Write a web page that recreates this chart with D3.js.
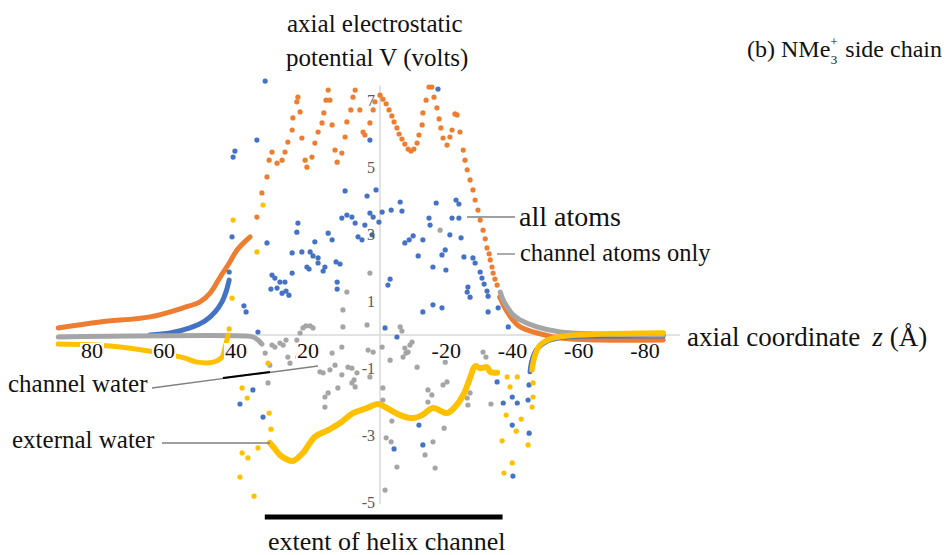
<!DOCTYPE html>
<html>
<head>
<meta charset="utf-8">
<script src="https://cdn.jsdelivr.net/npm/d3@7"></script>
<style>
  html, body { margin: 0; padding: 0; background: #fff; }
</style>
</head>
<body>
<svg id="chart" width="951" height="555"></svg>
<script>
// --- Data: [z (Å), V (volts)] ---
const xTicks = [80, 60, 40, 20, -20, -40, -60, -80];
const yTicks = [7, 5, 3, 1, -1, -3, -5];
const helixExtent = [32, -37];

// all atoms (orange)
const allAtomsLeft = [[89.4, 0.21], [77.8, 0.39], [63.9, 0.54], [54.7, 0.81], [50.0, 0.99], [47.2, 1.25],
  [44.4, 1.73], [41.7, 2.18], [39.7, 2.54], [36.1, 2.93]];
const allAtomsRight = [[-36.2, 1.13], [-37.2, 0.90], [-38.4, 0.69], [-40.1, 0.45], [-42.3, 0.24],
  [-47.4, 0.06], [-54.4, -0.09], [-66.5, -0.15], [-85.5, -0.15]];
const allAtomsDots = [[34.2, 3.52], [32.8, 4.24], [31.4, 4.72], [30.8, 5.22], [30.0, 5.46], [28.6, 5.13],
  [27.2, 5.22], [26.4, 5.46], [25.6, 5.76], [24.4, 6.12], [24.2, 6.48], [23.1, 6.96], [22.8, 7.10],
  [22.2, 6.66], [21.7, 5.88], [20.8, 5.22], [20.3, 5.01], [18.9, 5.31], [18.1, 5.73], [17.2, 6.06],
  [16.1, 6.33], [15.6, 6.63], [15.0, 7.01], [14.4, 7.31], [13.9, 7.01], [13.3, 6.27], [12.5, 5.52],
  [11.9, 5.16], [10.6, 5.43], [9.7, 5.91], [9.2, 6.36], [8.1, 6.72], [7.5, 7.10], [6.9, 7.31],
  [5.6, 6.72], [4.7, 6.06], [4.2, 5.97], [2.8, 6.33], [1.9, 6.72], [1.4, 6.96], [0, 7.16],
  [-0.87, 7.04], [-1.85, 6.90], [-2.72, 6.72], [-3.59, 6.54], [-4.24, 6.36], [-5.11, 6.18], [-5.76, 6.00],
  [-6.63, 5.85], [-7.50, 5.70], [-8.48, 5.55], [-9.35, 5.49], [-10.22, 5.55], [-11.20, 5.73],
  [-11.75, 5.97], [-12.72, 6.27], [-12.94, 6.63], [-13.92, 7.01], [-14.79, 7.40], [-15.66, 7.40],
  [-16.31, 7.10], [-17.18, 6.78], [-17.84, 6.45], [-18.38, 6.18], [-19.03, 5.88], [-20.23, 5.67],
  [-21.10, 5.91], [-21.75, 6.12], [-22.62, 6.60], [-23.27, 6.57], [-24.14, 6.06], [-25.12, 5.52],
  [-25.67, 5.22], [-26.32, 4.93], [-27.19, 4.63], [-28.06, 4.33], [-28.71, 4.03], [-29.58, 3.73],
  [-30.24, 3.43], [-31.11, 3.13], [-31.76, 2.87], [-32.30, 2.60], [-32.95, 2.42], [-33.28, 2.24],
  [-33.82, 2.03], [-34.15, 1.85], [-34.69, 1.67], [-35.35, 1.49], [-36.22, 1.13]];

// channel atoms only (blue)
const channelAtomsLeft = [[63.9, 0], [58.3, 0.06], [52.8, 0.21], [48.6, 0.42], [45.8, 0.69], [43.9, 0.99],
  [42.8, 1.28], [41.9, 1.64]];
const channelAtomsRight = [[-45.3, -1.10], [-45.9, -0.75], [-47.4, -0.42],
  [-50.5, -0.18], [-55.9, -0.06], [-69.5, -0.03], [-85.5, -0.03]];
const channelAtomsDots = [[31.9, 7.58], [34.2, 5.82], [40.3, 5.49], [40.8, 5.31], [2.8, 5.82], [9.7, 4.30],
  [3.6, 4.15], [1.1, 4.33], [10.6, 3.49], [9.2, 3.58], [7.8, 3.52], [6.9, 3.34], [4.2, 3.28], [2.8, 3.64],
  [1.9, 3.52], [0.3, 3.37], [22.8, 3.34], [23.1, 3.07], [14.4, 3.04], [13.3, 2.84], [18.1, 2.78],
  [6.1, 2.93], [5.0, 2.84], [2.2, 2.99], [41.1, 2.93], [31.4, 2.75], [24.4, 2.45], [21.7, 2.48],
  [19.4, 2.48], [18.6, 2.36], [17.2, 2.30], [17.2, 2.15], [15.3, 2.03], [15.8, 1.91], [20.3, 2.03],
  [19.7, 1.97], [12.2, 2.18], [11.1, 2.12], [24.4, 1.85], [30.0, 1.79], [29.2, 1.70], [27.8, 1.58],
  [26.4, 1.58], [30.3, 1.37], [28.6, 1.40], [27.2, 1.25], [26.1, 1.31], [25.3, 1.19], [11.9, 1.58],
  [11.9, 1.37], [37.8, 0.87], [37.2, 0.69], [33.9, 0.09], [41.9, 1.88], [-3.05, 1.67], [-2.39, 1.49],
  [-1.52, 0.21], [-5.11, -0.06], [-17.51, 7.34], [-6.09, 3.97], [-6.63, 3.70], [-3.37, 3.73],
  [-0.65, 3.67], [-16.97, 3.94], [-22.95, 4.03], [-23.82, 3.91], [-14.79, 3.49], [-15.12, 3.28],
  [-21.75, 3.49], [-23.82, 3.49], [-7.50, 2.75], [-8.81, 2.84], [-10.01, 2.96], [-12.94, 2.84],
  [-21.10, 2.99], [-24.47, 2.90], [-18.71, 2.39], [-19.69, 2.54], [-15.99, 2.03], [-11.53, 2.36],
  [-25.34, 2.33], [-28.06, 2.30], [-28.71, 2.15], [-30.24, 1.88], [-30.78, 1.70], [-31.43, 1.52],
  [-26.54, 1.43], [-26.32, 1.28], [-27.19, 1.13], [-32.30, 1.31], [-32.63, 1.16], [-19.90, 1.94],
  [-12.94, 0.69], [-15.99, 0.90], [-18.71, 0.81], [-35.67, 0.81], [-32.63, 0.69], [-38.72, 0.24],
  [-35.35, -1.40], [-37.20, -2.03], [-41.44, -2.03], [-39.92, -1.85], [-39.92, -2.69], [-45.03, -2.93],
  [-40.13, -4.21], [-4.24, -3.40], [-11.75, -2.69], [-12.94, -3.28], [38.9, -2.06], [35.3, -1.64],
  [32.5, -2.45], [-44.7, -1.94], [-45.0, -1.49]];

// channel water (grey)
const channelWaterLeft = [[89.4, -0.06], [37.5, -0.03], [35.3, -0.06], [33.9, -0.15], [32.8, -0.27]];
const channelWaterRight = [[-36.3, 1.28], [-37.2, 1.04], [-38.4, 0.84], [-40.2, 0.60], [-42.3, 0.45],
  [-47.4, 0.24], [-54.4, 0.09], [-66.5, 0.03], [-85.5, 0]];
const channelWaterDots = [[30.0, -0.30], [29.2, -0.36], [27.8, -0.24], [26.9, -0.30], [26.1, -0.15],
  [25.6, -0.66], [25.0, -0.84], [23.1, -0.15], [22.2, 0.06], [21.4, 0.21], [20.6, 0.27], [19.4, 0.27],
  [18.6, 0.21], [31.9, -0.54], [30.6, -0.90], [31.1, -1.43], [22.8, -0.66], [15.8, -1.13], [13.9, -1.04],
  [12.5, -0.90], [10.6, -0.36], [10.3, 0.24], [10.3, 0.75], [9.2, 1.28], [7.8, -0.99], [7.8, -1.43],
  [6.9, -1.55], [3.6, 0.30], [3.3, -0.45], [1.9, -0.51], [2.8, -1.25], [15.3, -1.85], [14.4, -1.73],
  [15.3, -2.15], [-0.65, -0.36], [-3.05, -0.75], [-7.50, -0.39], [-8.48, -0.51], [-9.68, -0.21],
  [-0.87, -1.58], [-0.87, -1.94], [-3.59, -2.57], [-11.20, -0.96], [-14.47, -1.64], [-15.66, -1.79],
  [-14.47, -2.00], [-19.03, -1.49], [-20.23, -1.40], [-19.69, -0.81], [-26.32, -1.88], [-26.54, -2.09],
  [-27.19, -1.73], [-33.50, -2.06], [-31.11, -0.51], [-31.98, -0.66], [-19.36, -2.78], [-15.99, -3.19],
  [-13.60, -3.58], [-16.64, -3.97], [-5.11, -3.94], [-1.52, -4.63], [-1.85, -3.07], [-3.37, -3.19],
  [2.8, 1.85], [-18.16, 3.13], [-6.09, 0.24], [-6.63, 0.12], [-9.03, -0.30], [-7.83, -0.54],
  [-6.96, -0.66], [6.4, -1.13], [7.2, -1.34], [10.6, -1.19], [8.9, -0.96], [11.7, -1.58], [16.7, -1.10],
  [13.3, -0.54]];

// external water (yellow)
const externalWaterLeft = [[89.4, -0.27], [75.0, -0.33], [62.5, -0.51], [54.2, -0.69], [50.8, -0.81],
  [46.4, -0.81], [43.9, -0.66], [43.1, -0.39], [42.2, 0]];
const externalWaterMid = [[30.6, -3.22], [29.2, -3.40], [27.8, -3.58], [26.1, -3.70], [24.2, -3.76],
  [21.4, -3.52], [18.1, -3.04], [14.4, -2.84], [11.1, -2.63], [7.5, -2.33], [3.6, -2.18], [0.6, -2.06],
  [-2.07, -2.18], [-6.09, -2.39], [-10.01, -2.48], [-12.72, -2.39], [-15.99, -2.18], [-20.23, -2.33],
  [-22.62, -2.15], [-25.12, -1.79], [-27.19, -1.28], [-28.71, -0.93], [-30.24, -0.99], [-32.30, -0.96],
  [-33.28, -1.10], [-35.35, -1.13]];
const externalWaterRight = [[-45.9, -1.04], [-46.8, -0.60], [-48.3, -0.30], [-51.4, -0.12], [-55.9, -0.03],
  [-66.5, 0.03], [-85.5, 0.06]];
const externalWaterDots = [[41.9, 0.18], [41.1, 1.10], [34.2, 2.48], [40.8, 3.43], [32.5, 3.88],
  [38.3, -1.58], [36.9, -1.88], [31.1, -0.84], [30.8, -2.33], [30.3, -2.81], [33.9, -3.37], [38.3, -3.52],
  [36.7, -3.67], [38.9, -4.24], [35.0, -4.81], [-38.07, -2.39], [-42.63, -2.51], [-41.11, -2.87],
  [-36.87, -3.16], [-44.70, -3.28], [-39.92, -3.82], [-37.41, -4.12], [-38.39, -1.25], [-41.44, -1.25],
  [-39.26, -1.55], [-45.9, -2.15], [-46.2, -1.85], [-46.2, -1.43]];

// --- Colours / font ---
const ORANGE = '#ED7D31';
const BLUE = '#4472C4';
const GREY = '#A5A5A5';
const YELLOW = '#FFC000';
const SERIF = '"Liberation Serif", "Times New Roman", Times, Tinos, "Noto Serif", "DejaVu Serif", FreeSerif, serif';

// --- Scales (axis spacing in the figure differs a little either side of z = 0) ---
const svg = d3.select('#chart').attr('font-family', SERIF);
const x = d3.scaleLinear().domain([80, 0, -80]).range([92, 380, 645]);
const y = d3.scaleLinear().domain([-5, 7]).range([502.5, 100.5]);

svg.append('rect').attr('width', 951).attr('height', 555).attr('fill', '#fff');

// axes lines
svg.append('line')
  .attr('x1', 58).attr('x2', 680)
  .attr('y1', y(0)).attr('y2', y(0))
  .attr('stroke', '#d9d9d9').attr('stroke-width', 1.5);
svg.append('line')
  .attr('x1', x(0)).attr('x2', x(0))
  .attr('y1', y(7.45)).attr('y2', y(-5.05))
  .attr('stroke', '#d9d9d9').attr('stroke-width', 1.5);

const line = d3.line().x(d => x(d[0])).y(d => y(d[1])).curve(d3.curveCatmullRom);

function drawCurve(data, color, width) {
  svg.append('path')
    .datum(data)
    .attr('d', line)
    .attr('fill', 'none')
    .attr('stroke', color)
    .attr('stroke-width', width)
    .attr('stroke-linecap', 'round')
    .attr('stroke-linejoin', 'round');
}

function drawDots(data, color) {
  svg.append('g')
    .selectAll('circle')
    .data(data)
    .enter().append('circle')
    .attr('cx', d => x(d[0]))
    .attr('cy', d => y(d[1]))
    .attr('r', 2.6)
    .attr('fill', color);
}

// series
drawCurve(allAtomsLeft, ORANGE, 5);
drawCurve(allAtomsRight, ORANGE, 5);
drawDots(allAtomsDots, ORANGE);

drawCurve(channelAtomsLeft, BLUE, 5);
drawCurve(channelAtomsRight, BLUE, 5);
drawDots(channelAtomsDots, BLUE);

drawCurve(channelWaterLeft, GREY, 5);
drawCurve(channelWaterRight, GREY, 5);
drawDots(channelWaterDots, GREY);

drawCurve(externalWaterLeft, YELLOW, 5);
drawCurve(externalWaterMid, YELLOW, 6);
drawCurve(externalWaterRight, YELLOW, 5.5);
drawDots(externalWaterDots, YELLOW);

// x tick labels (white boxes hide the line underneath)
const xLab = svg.append('g').selectAll('g').data(xTicks).enter().append('g');
xLab.append('rect')
  .attr('x', d => x(d) - (d < 0 ? 17 : 12))
  .attr('y', y(0) + 8)
  .attr('width', d => d < 0 ? 34 : 24)
  .attr('height', 17)
  .attr('fill', '#fff');
xLab.append('text')
  .attr('x', d => x(d))
  .attr('y', y(0) + 23)
  .attr('text-anchor', 'middle')
  .attr('font-size', 22)
  .attr('fill', '#111')
  .text(d => d);

// y tick labels
svg.append('g').selectAll('text').data(yTicks).enter().append('text')
  .attr('x', x(0) - 5)
  .attr('y', d => y(d) + 5)
  .attr('text-anchor', 'end')
  .attr('font-size', 16)
  .attr('fill', '#595959')
  .text(d => d);

// helix extent bar
svg.append('line')
  .attr('x1', x(helixExtent[0])).attr('x2', x(helixExtent[1]))
  .attr('y1', 517).attr('y2', 517)
  .attr('stroke', '#000').attr('stroke-width', 5);

// --- Annotations ---
function label(tx, ty, size, str) {
  return svg.append('text').attr('x', tx).attr('y', ty).attr('font-size', size).attr('fill', '#111').text(str);
}
function leader(x1, y1, x2, y2, color, w) {
  svg.append('line').attr('x1', x1).attr('y1', y1).attr('x2', x2).attr('y2', y2)
    .attr('stroke', color).attr('stroke-width', w);
}

label(287, 32, 25, 'axial electrostatic');
label(286, 66, 25, 'potential V (volts)');

// (b) NMe3+ : subscript 3 with the + stacked above it
const title = svg.append('text').attr('x', 747).attr('y', 57).attr('font-size', 24).attr('fill', '#111');
title.append('tspan').text('(b) NMe');
const titleEnd = title.node().getComputedTextLength();
title.append('tspan').text(' side chain').attr('dx', 9);
svg.append('text').attr('x', 747 + titleEnd + 0.5).attr('y', 64).attr('font-size', 13).attr('fill', '#111').text('3');
svg.append('text').attr('x', 747 + titleEnd).attr('y', 46).attr('font-size', 13).attr('fill', '#111').text('+');

leader(467, 217, 515, 217, '#7f7f7f', 1.3);
label(519, 226, 28, 'all atoms');
leader(497, 254, 515, 254, '#7f7f7f', 1.3);
label(520, 261, 24.5, 'channel atoms only');

const axisTitle = svg.append('text').attr('x', 687).attr('y', 346).attr('font-size', 27).attr('fill', '#111');
axisTitle.append('tspan').text('axial coordinate');
axisTitle.append('tspan').attr('dx', 12).attr('font-style', 'italic').text('z');
axisTitle.append('tspan').attr('dx', 7).text('(Å)');

leader(152, 388, 318, 366, '#7f7f7f', 1.3);
leader(223, 378, 270, 372, '#000', 2);
label(8, 392, 25, 'channel water');

leader(162, 443, 270, 443, '#7f7f7f', 1.3);
label(12, 448, 25, 'external water');

label(268, 550, 26, 'extent of helix channel');
</script>
</body>
</html>
